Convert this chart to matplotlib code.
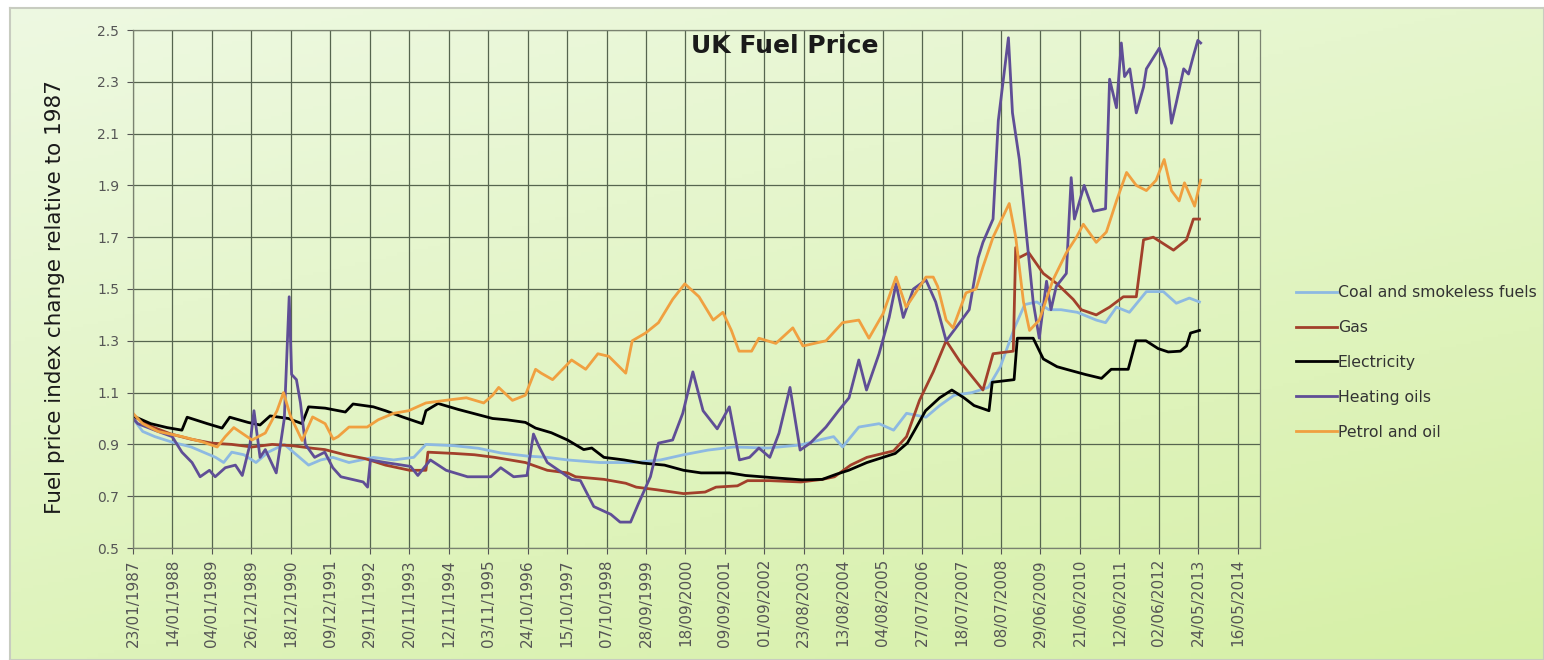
import numpy as np
import pandas as pd
import matplotlib
matplotlib.use("Agg")
import matplotlib.pyplot as plt
import matplotlib.dates as mdates
from matplotlib.colors import to_rgb

# values, (decimal year, index relative to 1987)
coal_t = [1987.06, 1987.3, 1987.6, 1988.0, 1988.5, 1988.8, 1989.1, 1989.3, 1989.5, 1989.8,
          1990.1, 1990.4, 1990.8, 1991.1, 1991.4, 1991.7, 1992.0, 1992.4, 1992.7, 1993.0,
          1993.5, 1994.0, 1994.3, 1995.0, 1995.6, 1996.15, 1996.8, 1997.3, 1997.8, 1998.6,
          1999.44, 2000.1, 2000.67, 2001.27, 2001.91, 2002.75, 2003.57, 2004.1, 2004.38, 2004.6,
          2005.0, 2005.5, 2005.86, 2006.18, 2006.66, 2007.0, 2007.36, 2007.8, 2008.2, 2008.5,
          2008.85, 2009.1, 2009.4, 2009.7, 2010.0, 2010.4, 2010.87, 2011.1, 2011.37, 2011.69,
          2012.11, 2012.53, 2012.85, 2013.17, 2013.42]
coal_v = [1.00, 0.95, 0.93, 0.91, 0.89, 0.87, 0.85, 0.83, 0.87, 0.86,
          0.83, 0.87, 0.90, 0.86, 0.82, 0.84, 0.85, 0.83, 0.84, 0.85,
          0.84, 0.85, 0.90, 0.895, 0.885, 0.867, 0.855, 0.85, 0.84, 0.83,
          0.83, 0.84, 0.86, 0.878, 0.89, 0.886, 0.898, 0.92, 0.93, 0.89,
          0.967, 0.98, 0.955, 1.02, 1.005, 1.05, 1.09, 1.10, 1.12, 1.20,
          1.35, 1.44, 1.45, 1.42, 1.42, 1.41, 1.38, 1.37, 1.43, 1.41,
          1.49, 1.49, 1.445, 1.465, 1.45]

gas_t = [1987.06, 1987.5, 1988.0, 1988.5, 1989.0, 1989.5, 1990.0, 1990.5, 1991.0, 1991.5,
         1991.8, 1992.3, 1992.8, 1993.3, 1993.9, 1994.3, 1994.35, 1995.0, 1995.5, 1996.0,
         1996.76, 1997.3, 1997.8, 1998.0, 1998.7, 1999.24, 1999.5, 2000.0, 2000.67, 2001.2,
         2001.47, 2002.0, 2002.25, 2002.8, 2003.57, 2004.1, 2004.4, 2004.8, 2005.2, 2005.86,
         2006.18, 2006.5, 2006.84, 2007.16, 2007.5, 2008.07, 2008.32, 2008.82, 2008.88, 2008.95,
         2009.2, 2009.56, 2009.9, 2010.3, 2010.5, 2010.87, 2011.2, 2011.54, 2011.86, 2012.04,
         2012.28, 2012.78, 2013.1, 2013.27, 2013.42]
gas_v = [1.01, 0.97, 0.94, 0.92, 0.905, 0.90, 0.89, 0.90, 0.895, 0.885,
         0.88, 0.86, 0.845, 0.82, 0.80, 0.80, 0.87, 0.865, 0.86, 0.85,
         0.83, 0.80, 0.79, 0.775, 0.765, 0.75, 0.735, 0.725, 0.71, 0.716,
         0.735, 0.74, 0.76, 0.76, 0.755, 0.765, 0.775, 0.82, 0.85, 0.875,
         0.93, 1.07, 1.18, 1.30, 1.22, 1.11, 1.25, 1.26, 1.66, 1.62,
         1.64, 1.56, 1.52, 1.46, 1.42, 1.40, 1.43, 1.47, 1.47, 1.69,
         1.70, 1.65, 1.69, 1.77, 1.77]

elec_t = [1987.06, 1987.5, 1987.9, 1988.27, 1988.4, 1988.9, 1989.26, 1989.45, 1989.9, 1990.2,
          1990.45, 1990.9, 1991.24, 1991.4, 1991.81, 1992.31, 1992.5, 1993.0, 1993.3, 1993.72,
          1994.21, 1994.3, 1994.6, 1995.1, 1995.95, 1996.3, 1996.76, 1997.01, 1997.4, 1997.8,
          1998.2, 1998.4, 1998.7, 1999.2, 1999.65, 2000.2, 2000.67, 2001.1, 2001.8, 2002.2,
          2003.0, 2003.6, 2004.1, 2004.45, 2004.75, 2005.2, 2005.6, 2005.9, 2006.2, 2006.4,
          2006.65, 2007.0, 2007.3, 2007.6, 2007.85, 2008.22, 2008.3, 2008.84, 2008.92, 2009.31,
          2009.56, 2009.9, 2010.13, 2010.6, 2011.0, 2011.24, 2011.66, 2011.85, 2012.1, 2012.4,
          2012.65, 2012.95, 2013.1, 2013.2, 2013.42]
elec_v = [1.01, 0.98, 0.965, 0.955, 1.005, 0.98, 0.963, 1.005, 0.985, 0.975,
          1.01, 1.00, 0.98, 1.045, 1.04, 1.025, 1.056, 1.045, 1.03, 1.006,
          0.98, 1.03, 1.058, 1.035, 1.00, 0.995, 0.985, 0.963, 0.945, 0.917,
          0.88, 0.886, 0.85, 0.84, 0.828, 0.82, 0.80, 0.79, 0.79, 0.78,
          0.77, 0.763, 0.765, 0.785, 0.80, 0.83, 0.85, 0.865, 0.905, 0.96,
          1.03, 1.08, 1.11, 1.08, 1.05, 1.03, 1.14, 1.15, 1.31, 1.31,
          1.23, 1.20, 1.19, 1.17, 1.155, 1.19, 1.19, 1.30, 1.30, 1.27,
          1.257, 1.26, 1.28, 1.33, 1.34]

heat_t = [1987.06, 1987.18, 1987.68, 1988.03, 1988.27, 1988.52, 1988.72, 1988.95, 1989.09, 1989.34,
          1989.59, 1989.76, 1989.95, 1990.05, 1990.2, 1990.33, 1990.6, 1990.8, 1990.92, 1990.98,
          1991.1, 1991.2, 1991.32, 1991.55, 1991.8, 1992.0, 1992.2, 1992.75, 1992.86, 1992.93,
          1993.3, 1993.92, 1994.1, 1994.41, 1994.8, 1995.33, 1995.9, 1996.15, 1996.47, 1996.8,
          1996.96, 1997.1, 1997.3, 1997.58, 1997.9, 1998.12, 1998.45, 1998.87, 1999.1, 1999.36,
          1999.55, 1999.85, 2000.05, 2000.4, 2000.65, 2000.9, 2001.15, 2001.5, 2001.8, 2002.05,
          2002.3, 2002.53, 2002.8, 2003.03, 2003.3, 2003.55, 2003.8, 2004.19, 2004.5, 2004.76,
          2005.0, 2005.19, 2005.5, 2005.75, 2005.92, 2006.1, 2006.35, 2006.66, 2006.9, 2007.16,
          2007.4, 2007.73, 2007.95, 2008.07, 2008.32, 2008.45, 2008.7, 2008.8, 2008.97, 2009.15,
          2009.31, 2009.46, 2009.64, 2009.75, 2009.88, 2010.13, 2010.25, 2010.33, 2010.57, 2010.8,
          2011.1, 2011.2, 2011.37, 2011.49, 2011.57, 2011.7, 2011.86, 2012.04, 2012.11, 2012.43,
          2012.6, 2012.73, 2012.85, 2013.03, 2013.15, 2013.27, 2013.38, 2013.45]
heat_v = [1.00, 0.98, 0.95, 0.93, 0.87, 0.83, 0.775, 0.80, 0.775, 0.81,
          0.82, 0.78, 0.90, 1.03, 0.85, 0.88, 0.79, 1.00, 1.47, 1.17,
          1.15, 1.06, 0.90, 0.85, 0.87, 0.81, 0.775, 0.755, 0.735, 0.84,
          0.83, 0.815, 0.78, 0.84, 0.80, 0.775, 0.775, 0.81, 0.775, 0.78,
          0.94, 0.89, 0.83, 0.80, 0.765, 0.76, 0.66, 0.63, 0.60, 0.60,
          0.67, 0.775, 0.905, 0.917, 1.02, 1.18, 1.03, 0.96, 1.045, 0.84,
          0.85, 0.886, 0.85, 0.944, 1.12, 0.878, 0.905, 0.967, 1.03, 1.08,
          1.226, 1.11, 1.25, 1.39, 1.52, 1.39, 1.50, 1.535, 1.45, 1.30,
          1.35, 1.42, 1.62, 1.68, 1.77, 2.15, 2.47, 2.18, 2.00, 1.70,
          1.45, 1.31, 1.53, 1.42, 1.51, 1.56, 1.93, 1.77, 1.90, 1.80,
          1.81, 2.31, 2.20, 2.45, 2.32, 2.35, 2.18, 2.28, 2.35, 2.43,
          2.35, 2.14, 2.22, 2.35, 2.33, 2.40, 2.46, 2.45]

petrol_t = [1987.06, 1987.3, 1987.68, 1988.27, 1988.77, 1989.14, 1989.34, 1989.55, 1990.0, 1990.33,
            1990.62, 1990.78, 1990.95, 1991.24, 1991.5, 1991.81, 1992.01, 1992.13, 1992.4, 1992.85,
            1993.12, 1993.5, 1993.87, 1994.3, 1994.78, 1995.3, 1995.73, 1995.95, 1996.1, 1996.44,
            1996.76, 1997.01, 1997.15, 1997.43, 1997.9, 1998.25, 1998.55, 1998.82, 1999.24, 1999.4,
            1999.73, 2000.05, 2000.4, 2000.7, 2001.05, 2001.4, 2001.64, 2001.85, 2002.04, 2002.35,
            2002.53, 2002.95, 2003.37, 2003.62, 2004.19, 2004.6, 2005.0, 2005.25, 2005.6, 2005.92,
            2006.17, 2006.66, 2006.84, 2006.95, 2007.16, 2007.33, 2007.65, 2007.9, 2008.07, 2008.32,
            2008.72, 2008.88, 2009.07, 2009.22, 2009.46, 2009.8, 2010.13, 2010.38, 2010.55, 2010.87,
            2011.12, 2011.37, 2011.62, 2011.86, 2012.11, 2012.35, 2012.55, 2012.73, 2012.92, 2013.05,
            2013.3, 2013.45]
petrol_v = [1.02, 0.98, 0.95, 0.93, 0.91, 0.89, 0.93, 0.965, 0.917, 0.944,
            1.03, 1.10, 1.01, 0.915, 1.006, 0.98, 0.92, 0.93, 0.967, 0.967,
            0.995, 1.02, 1.03, 1.06, 1.07, 1.08, 1.06, 1.09, 1.12, 1.07,
            1.09, 1.19, 1.175, 1.15, 1.226, 1.19, 1.25, 1.24, 1.175, 1.30,
            1.33, 1.37, 1.46, 1.52, 1.47, 1.38, 1.41, 1.34, 1.26, 1.26,
            1.31, 1.29, 1.35, 1.28, 1.30, 1.37, 1.38, 1.31, 1.405, 1.546,
            1.43, 1.546, 1.546, 1.51, 1.38, 1.35, 1.485, 1.50, 1.585, 1.70,
            1.83, 1.70, 1.45, 1.34, 1.38, 1.535, 1.64, 1.70, 1.75, 1.68,
            1.72, 1.84, 1.95, 1.90, 1.88, 1.92, 2.00, 1.88, 1.84, 1.91,
            1.82, 1.92]

series = [("Coal and smokeless fuels", coal_t, coal_v, "#8DB9E2"),
          ("Gas", gas_t, gas_v, "#A2402B"),
          ("Electricity", elec_t, elec_v, "#000000"),
          ("Heating oils", heat_t, heat_v, "#5F4E96"),
          ("Petrol and oil", petrol_t, petrol_v, "#F0A040")]

y_ticks = [0.5, 0.7, 0.9, 1.1, 1.3, 1.5, 1.7, 1.9, 2.1, 2.3, 2.5]
x_tick_labels = ["23/01/1987", "14/01/1988", "04/01/1989", "26/12/1989", "18/12/1990",
                 "09/12/1991", "29/11/1992", "20/11/1993", "12/11/1994", "03/11/1995",
                 "24/10/1996", "15/10/1997", "07/10/1998", "28/09/1999", "18/09/2000",
                 "09/09/2001", "01/09/2002", "23/08/2003", "13/08/2004", "04/08/2005",
                 "27/07/2006", "18/07/2007", "08/07/2008", "29/06/2009", "21/06/2010",
                 "12/06/2011", "02/06/2012", "24/05/2013", "16/05/2014"]


def to_dates(years):
    years = np.asarray(years, dtype=float)
    base = pd.to_datetime([f"{int(y)}-01-01" for y in years])
    return base + pd.to_timedelta((years - years.astype(int)) * 365.25, unit="D")


W, H = 1544, 660
fig = plt.figure(figsize=(W / 100, H / 100), dpi=100, facecolor="white")

# chart area background: light green gradient
bg = fig.add_axes([10 / W, 0, 1 - 10 / W, 1 - 8 / H], zorder=-5)
gy, gx = np.mgrid[0:1:200j, 0:1:400j]
t = 0.65 * gy + 0.35 * gx
c0 = np.array(to_rgb("#EEF9E2"))
c1 = np.array(to_rgb("#D6F0A6"))
grad = c0[None, None, :] * (1 - t[..., None]) + c1[None, None, :] * t[..., None]
bg.imshow(grad, aspect="auto", extent=[0, 1, 0, 1], origin="upper")
bg.set_xlim(0, 1)
bg.set_ylim(0, 1)
for s in bg.spines.values():
    s.set_color("#C8CCC0")
    s.set_linewidth(1.5)
bg.set_xticks([])
bg.set_yticks([])

left, right, top, bottom = 133, 1260, 30, 548
ax = fig.add_axes([left / W, 1 - bottom / H, (right - left) / W, (bottom - top) / H])
ax.patch.set_alpha(0)

handles = []
for name, tt, vv, col in series:
    h, = ax.plot(to_dates(tt), vv, color=col, lw=2.0, label=name, solid_joinstyle="round")
    handles.append(h)

xt = pd.to_datetime(x_tick_labels, format="%d/%m/%Y")
ax.set_xticks(mdates.date2num(xt))
ax.set_xticklabels(x_tick_labels)
ax.set_xlim(mdates.date2num(xt[0]), mdates.date2num(xt[-1] + pd.Timedelta(days=200)))
ax.set_ylim(0.5, 2.5)
ax.set_yticks(y_ticks)
ax.set_yticklabels([f"{v:.1f}" for v in y_ticks])

ax.grid(True, color="#56654F", lw=0.9)
ax.set_axisbelow(True)
for s in ax.spines.values():
    s.set_color("#7A8270")
    s.set_linewidth(0.9)
ax.tick_params(axis="x", rotation=90, labelsize=11, colors="#555555", length=4, pad=4)
ax.tick_params(axis="y", labelsize=10, colors="#555555", length=4, pad=6)

fig.text(55 / W, 1 - 297 / H, "Fuel price index change relative to 1987", rotation=90,
         ha="center", va="center", fontsize=15.5, color="#1A1A1A")
fig.text(785 / W, 1 - 46 / H, "UK Fuel Price", ha="center", va="center",
         fontsize=18, fontweight="bold", color="#1A1A1A")

fig.legend(handles=handles, loc="upper left", bbox_to_anchor=(1282 / W, 1 - 271 / H),
           frameon=False, fontsize=11.3, handlelength=2.6, handletextpad=0.05,
           labelspacing=1.27, labelcolor="#333333")

fig.savefig("out.png", dpi=100, facecolor="white")
